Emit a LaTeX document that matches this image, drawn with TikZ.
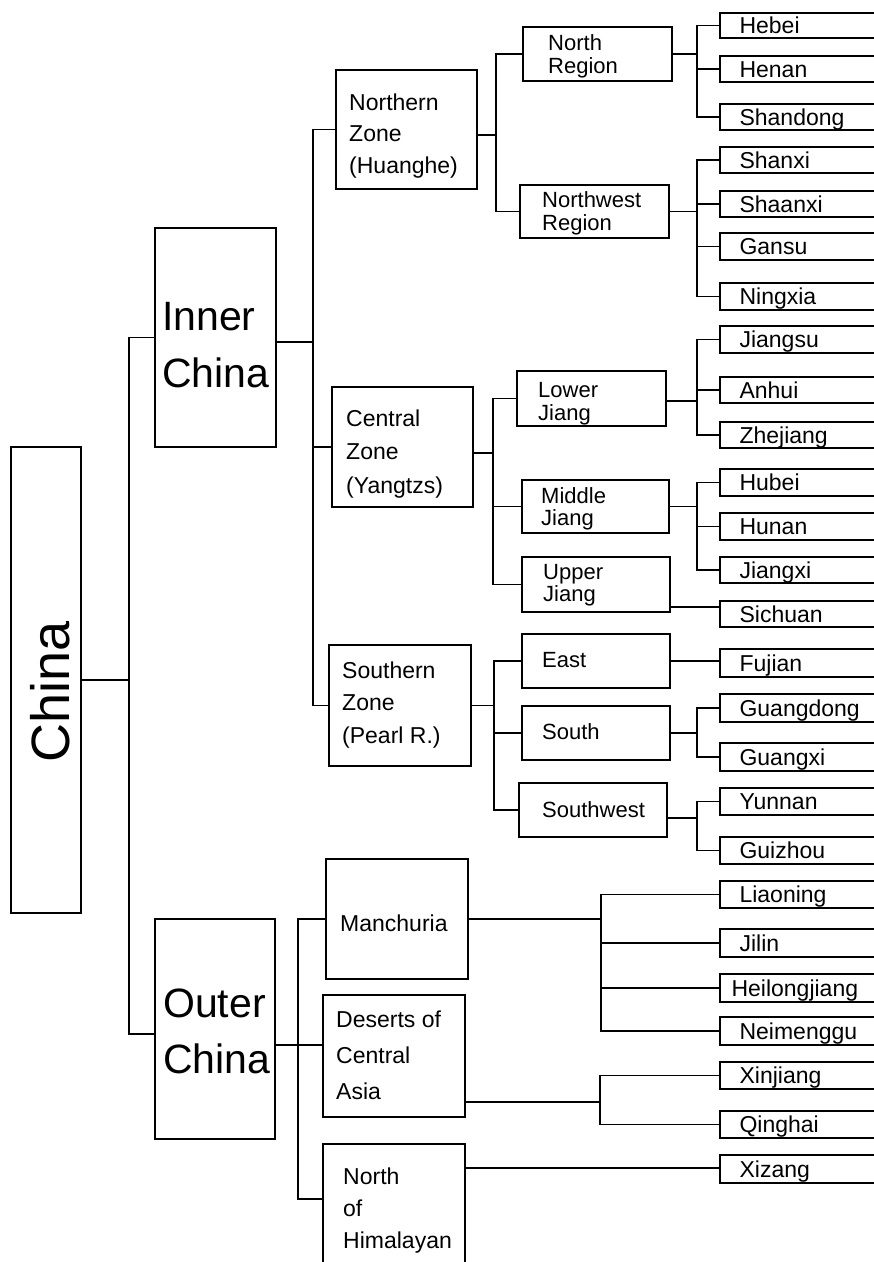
\documentclass[tikz,border=0pt]{standalone}
\usepackage{fontspec}
\setmainfont{Liberation Sans}
\usetikzlibrary{fit}
% multi-line left-aligned label whose baseline is that of its first line
\newcommand{\rowsat}[3]{\fontsize{#1}{#2}\selectfont\begin{tabular}[t]{@{}l@{}}#3\end{tabular}}

\begin{document}
\begin{tikzpicture}[x=1pt,y=-1pt,
  wire/.style={line width=1.3pt},
  box/.style={draw, line width=1.3pt, inner sep=0pt},
  lbl/.style={inner sep=0pt, anchor=base west},
  prov/.style={lbl, font=\fontsize{23}{23}\selectfont},
  reg/.style={lbl, font=\fontsize{22}{22}\selectfont},
]
\useasboundingbox (0,0) rectangle (874,1262);
\clip (0,0) rectangle (874,1262);

% ---------- boxes ----------
\node[box, fit={(11,447) (81,913)}] (china) {};
\node[box, fit={(155,228) (276,447)}] (inner) {};
\node[box, fit={(155,919) (275,1139)}] (outer) {};

\node[box, fit={(336,70) (477,189)}] (nz) {};
\node[box, fit={(332,387) (473,507)}] (cz) {};
\node[box, fit={(329,645) (471,766)}] (sz) {};
\node[box, fit={(326,859) (468,979)}] (manch) {};
\node[box, fit={(323,995) (465,1117)}] (des) {};
\node[box, fit={(323,1144) (465,1300)}] (him) {};

\node[box, fit={(523,27) (672,81)}] (nr) {};
\node[box, fit={(520,185) (669,238)}] (nwr) {};
\node[box, fit={(517,371) (666,426)}] (lj) {};
\node[box, fit={(522,480) (669,533)}] (mj) {};
\node[box, fit={(522,557) (670,612)}] (uj) {};
\node[box, fit={(522,634) (670,688)}] (east) {};
\node[box, fit={(522,706) (670,760)}] (south) {};
\node[box, fit={(519,783) (667,837)}] (sw) {};

% provinces: boxes run on past the right edge
\foreach \nm/\ya/\yb in {hebei/13/38, henan/56/82, shandong/104/130,
    shanxi/147/173, shaanxi/191/217, gansu/233/260, ningxia/283/310,
    jiangsu/326/353, anhui/377/403, zhejiang/422/448,
    hubei/469/496, hunan/513/540, jiangxi/557/583, sichuan/601/627,
    fujian/649/677, guangdong/694/722, guangxi/743/771,
    yunnan/788/815, guizhou/837/864,
    liaoning/881/908, jilin/929/957, heilong/974/1002, neimeng/1017/1045,
    xinjiang/1062/1089, qinghai/1111/1138, xizang/1155/1183}
  \node[box, fit={(720,\ya) (900,\yb)}] (\nm) {};

% ---------- labels ----------
\node[inner sep=0pt, rotate=90, font=\fontsize{54}{54}\selectfont] (chinat) at (50,691.5) {China};
\node[lbl] (innert) at (162,330) {\rowsat{41}{57}{Inner\\China}};
\node[lbl] (outert) at (163,1017) {\rowsat{41}{56}{Outer\\China}};

\node[lbl] (nzt) at (349,110) {\rowsat{23}{31.5}{Northern\\Zone\\(Huanghe)}};
\node[lbl] (czt) at (346,426) {\rowsat{23}{33.5}{Central\\Zone\\(Yangtzs)}};
\node[lbl] (szt) at (342,678) {\rowsat{23}{32.5}{Southern\\Zone\\(Pearl R.)}};
\node[lbl, font=\fontsize{23}{23}\selectfont] (mancht) at (340,931) {Manchuria};
\node[lbl] (dest) at (336,1027) {\rowsat{23}{36}{Deserts of\\Central\\Asia}};
\node[lbl] (himt) at (343,1184) {\rowsat{23}{32}{North\\of\\Himalayan}};

\node[lbl] (nrt) at (548,50) {\rowsat{22}{23}{North\\Region}};
\node[lbl] (nwrt) at (542,207) {\rowsat{22}{23}{Northwest\\Region}};
\node[lbl] (ljt) at (538,397) {\rowsat{22}{23}{Lower\\Jiang}};
\node[lbl] (mjt) at (541,503) {\rowsat{22}{22}{Middle\\Jiang}};
\node[lbl] (ujt) at (543,579) {\rowsat{22}{22}{Upper\\Jiang}};
\node[reg] (eastt) at (542,667) {East};
\node[reg] (southt) at (542,739) {South};
\node[reg] (swt) at (542,817) {Southwest};

\foreach \nm/\txt in {hebei/Hebei, henan/Henan, shandong/Shandong,
    shanxi/Shanxi, shaanxi/Shaanxi, gansu/Gansu, ningxia/Ningxia,
    jiangsu/Jiangsu, anhui/Anhui, zhejiang/Zhejiang,
    hubei/Hubei, hunan/Hunan, jiangxi/Jiangxi, sichuan/Sichuan,
    fujian/Fujian, guangdong/Guangdong, guangxi/Guangxi,
    yunnan/Yunnan, guizhou/Guizhou,
    liaoning/Liaoning, jilin/Jilin, neimeng/Neimenggu,
    xinjiang/Xinjiang, qinghai/Qinghai, xizang/Xizang}
  \node[prov] (\nm t) at ([xshift=20pt,yshift=-8pt]\nm.west) {\txt};
\node[prov] (heilongt) at ([xshift=12pt,yshift=-8pt]heilong.west) {Heilongjiang};

% ---------- bus positions ----------
\coordinate (b0) at (129,0);
\coordinate (b1) at (313,0);
\coordinate (b2) at (298,0);
\coordinate (bN) at (496,0);
\coordinate (bC) at (493,0);
\coordinate (bS) at (494,0);
\coordinate (bP) at (697,0);
\coordinate (bM) at (601,0);
\coordinate (bD) at (600,0);

% ---------- connectors ----------
% China
\coordinate (outL) at ([yshift=-5pt]outer.west);
\draw[wire] (china.east) -- (china.east -| b0);
\draw[wire] (inner.west) -| (b0 |- outL) -- (outL);

% Inner China
\coordinate (inR) at ([yshift=-4.5pt]inner.east);
\draw[wire] (inR) -- (inR -| b1);
\draw[wire] (nz.west) -| (b1 |- sz.west) -- (sz.west);
\draw[wire] (cz.west) -- (cz.west -| b1);

% Northern Zone
\coordinate (nzR) at ([yshift=-5.5pt]nz.east);
\draw[wire] (nzR) -- (nzR -| bN);
\draw[wire] (nr.west) -| (bN |- nwr.west) -- (nwr.west);

\draw[wire] (nr.east) -- (nr.east -| bP);
\draw[wire] (hebei.west) -| (bP |- shandong.west) -- (shandong.west);
\draw[wire] (henan.west) -- (henan.west -| bP);

\draw[wire] (nwr.east) -- (nwr.east -| bP);
\draw[wire] (shanxi.west) -| (bP |- ningxia.west) -- (ningxia.west);
\draw[wire] (shaanxi.west) -- (shaanxi.west -| bP);
\draw[wire] (gansu.west) -- (gansu.west -| bP);

% Central Zone
\coordinate (czR) at ([yshift=-6pt]cz.east);
\draw[wire] (czR) -- (czR -| bC);
\draw[wire] (lj.west) -| (bC |- uj.west) -- (uj.west);
\draw[wire] (mj.west) -- (mj.west -| bC);

\coordinate (ljR) at ([yshift=-2.5pt]lj.east);
\draw[wire] (ljR) -- (ljR -| bP);
\draw[wire] (jiangsu.west) -| (bP |- zhejiang.west) -- (zhejiang.west);
\draw[wire] (anhui.west) -- (anhui.west -| bP);

\draw[wire] (mj.east) -- (mj.east -| bP);
\draw[wire] (hubei.west) -| (bP |- jiangxi.west) -- (jiangxi.west);
\draw[wire] (hunan.west) -- (hunan.west -| bP);

\coordinate (ujR) at ([yshift=-22.5pt]uj.east);
\draw[wire] (ujR) -- (ujR -| sichuan.west);

% Southern Zone
\draw[wire] (sz.east) -- (sz.east -| bS);
\draw[wire] (east.west) -| (bS |- sw.west) -- (sw.west);
\draw[wire] (south.west) -- (south.west -| bS);

\draw[wire] (east.east) -- (east.east -| fujian.west);

\draw[wire] (south.east) -- (south.east -| bP);
\draw[wire] (guangdong.west) -| (bP |- guangxi.west) -- (guangxi.west);

\coordinate (swR) at ([yshift=-8pt]sw.east);
\draw[wire] (swR) -- (swR -| bP);
\draw[wire] (yunnan.west) -| (bP |- guizhou.west) -- (guizhou.west);

% Outer China
\coordinate (outR) at ([yshift=-16pt]outer.east);
\coordinate (himL) at ([yshift=23pt]him.west);
\draw[wire] (outR) -- (outR -| des.west);
\draw[wire] (manch.west) -| (b2 |- himL) -- (himL);

\draw[wire] (manch.east) -- (manch.east -| bM);
\draw[wire] (liaoning.west) -| (bM |- neimeng.west) -- (neimeng.west);
\draw[wire] (jilin.west) -- (jilin.west -| bM);
\draw[wire] (heilong.west) -- (heilong.west -| bM);

\coordinate (desR) at ([yshift=-46pt]des.east);
\draw[wire] (desR) -- (desR -| bD);
\draw[wire] (xinjiang.west) -| (bD |- qinghai.west) -- (qinghai.west);

\coordinate (himR) at ([yshift=54pt]him.east);
\draw[wire] (himR) -- (himR -| xizang.west);
\end{tikzpicture}
\end{document}
